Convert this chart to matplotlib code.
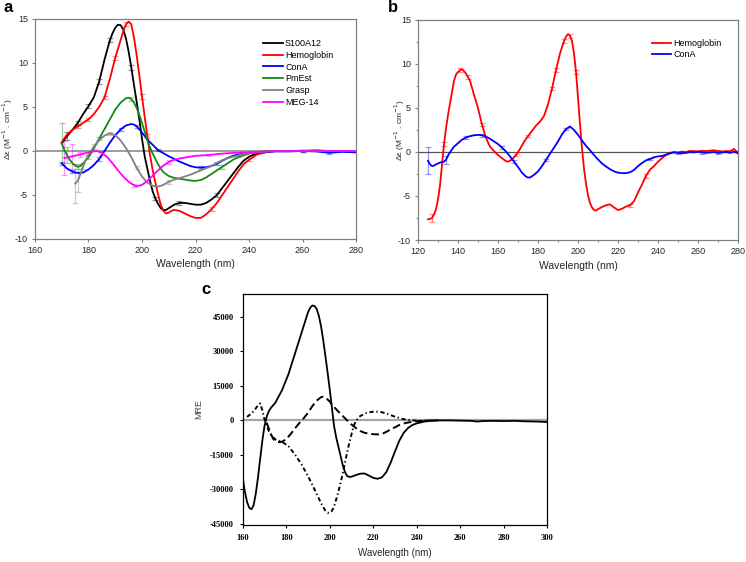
"""CD spectra figure: (a) six proteins, (b) Hemoglobin/ConA extended range, (c) MRE reference spectra."""
import matplotlib

matplotlib.use("Agg")
import matplotlib.pyplot as plt
import numpy as np
from matplotlib.ticker import MultipleLocator

plt.rcParams["font.family"] = ["Liberation Sans", "DejaVu Sans"]
plt.rcParams["axes.unicode_minus"] = False

# ---- panel a : delta epsilon vs wavelength ----
wl_s100 = [170, 172, 174, 176, 178, 180, 182, 184, 186, 188, 189, 190, 191, 192, 193, 194, 195, 196, 197, 198,
           199, 200, 201, 202, 203, 204, 205, 206, 207, 208, 209, 210, 212, 214, 216, 218, 220, 222, 224, 226,
           228, 230, 232, 234, 236, 238, 240, 243, 246, 250, 255, 260, 265, 270, 275, 280]
s100 = [0.85, 1.7, 2.4, 3.2, 4.2, 5.1, 6.1, 7.9, 10.4, 12.6, 13.4, 14.0, 14.35, 14.3, 13.8, 12.8, 11.3, 9.5, 7.5, 5.6,
        3.6, 1.4, -0.6, -2.0, -3.4, -4.6, -5.4, -6.0, -6.5, -6.7, -6.7, -6.5, -6.1, -5.9, -5.9, -6.0, -6.1, -6.1, -5.9, -5.5,
        -5.0, -4.2, -3.4, -2.6, -1.8, -1.1, -0.65, -0.25, -0.08, 0.0, 0.0, 0.0, 0.05, 0.0, 0.0, -0.05]
s100_err_wl = [172, 176, 180, 184, 188, 196, 205, 214, 228, 260]
s100_err = [0.5, 0.2, 0.2, 0.25, 0.25, 0.25, 0.2, 0.2, 0.2, 0.15]

wl_hb_a = [170, 172, 174, 176, 178, 180, 182, 184, 186, 188, 190, 192, 193, 194, 195, 196, 197, 198, 199, 200,
           201, 202, 203, 204, 205, 206, 207, 208, 209, 210, 211, 212, 214, 216, 218, 220, 222, 224, 226, 228,
           230, 232, 234, 236, 238, 240, 243, 246, 250, 255, 260, 265, 270, 275, 280]
hb_a = [1.0, 1.9, 2.4, 2.8, 3.2, 3.6, 4.2, 5.0, 6.1, 8.2, 10.6, 12.6, 13.6, 14.4, 14.7, 14.4, 12.9, 10.9, 8.6, 6.2,
        3.9, 1.7, -0.45, -2.2, -3.6, -4.9, -6.1, -6.8, -7.1, -7.0, -6.8, -6.7, -6.8, -7.1, -7.4, -7.6, -7.6, -7.2, -6.6, -5.9,
        -5.0, -4.1, -3.2, -2.3, -1.5, -1.0, -0.4, -0.15, 0.0, 0.0, 0.0, 0.05, 0.0, 0.0, -0.05]
hb_a_err_wl = [176, 180, 186, 190, 194, 200, 202, 226, 240]
hb_a_err = [0.2, 0.2, 0.2, 0.25, 0.25, 0.25, 0.2, 0.2, 0.15]

wl_cona_a = [170, 172, 174, 176, 178, 180, 182, 184, 186, 188, 190, 192, 194, 196, 197, 198, 200, 202, 204, 206,
             208, 210, 212, 214, 216, 218, 220, 222, 224, 226, 228, 230, 232, 234, 236, 238, 240, 245, 250, 255,
             260, 265, 270, 275, 280]
cona_a = [-1.4, -2.0, -2.35, -2.5, -2.45, -2.1, -1.6, -0.9, 0.0, 0.95, 1.8, 2.45, 2.9, 3.07, 3.0, 2.8, 2.1, 1.3, 0.7, 0.1,
          -0.25, -0.6, -0.9, -1.2, -1.45, -1.7, -1.85, -1.9, -1.85, -1.7, -1.45, -1.1, -0.8, -0.55, -0.4, -0.3, -0.2, -0.1, -0.05, -0.05,
          0.0, -0.05, -0.2, -0.1, -0.15]
cona_a_err_wl = [170, 174, 184, 192, 198, 206, 222, 228, 245, 260, 270]
cona_a_err = [0.2, 0.2, 0.2, 0.2, 0.2, 0.15, 0.15, 0.15, 0.1, 0.15, 0.15]

wl_pmest = [170, 171, 172, 173, 174, 175, 176, 177, 178, 180, 182, 184, 186, 188, 190, 192, 194, 195, 196, 197,
            198, 199, 200, 201, 202, 203, 204, 205, 206, 207, 208, 210, 212, 214, 216, 218, 220, 222, 224, 226,
            228, 230, 232, 234, 236, 238, 240, 244, 248, 255, 260, 270, 280]
pmest = [0.9, 0.1, -0.5, -1.0, -1.4, -1.65, -1.8, -1.7, -1.4, -0.7, 0.3, 1.4, 2.5, 3.6, 4.7, 5.5, 6.0, 6.05, 5.9, 5.5,
         4.9, 4.1, 3.2, 2.2, 1.2, 0.4, -0.3, -0.9, -1.5, -2.0, -2.4, -2.85, -3.05, -3.15, -3.25, -3.35, -3.4, -3.3, -3.0, -2.6,
         -2.2, -1.8, -1.4, -1.0, -0.7, -0.5, -0.3, -0.1, 0.0, 0.0, 0.0, 0.0, 0.0]
pmest_err_wl = [170, 172, 176, 180, 184, 196, 230]
pmest_err = [2.3, 0.9, 0.3, 0.2, 0.2, 0.2, 0.2]

wl_grasp = [175, 176, 177, 178, 179, 180, 182, 184, 186, 188, 190, 192, 194, 196, 198, 200, 202, 204, 206, 208,
            210, 212, 214, 216, 218, 220, 222, 224, 226, 228, 230, 232, 234, 236, 238, 240, 244, 248, 255, 260,
            270, 280]
grasp = [-3.7, -3.4, -2.6, -1.7, -1.0, -0.4, 0.5, 1.25, 1.75, 2.0, 1.8, 1.2, 0.35, -0.7, -1.9, -2.9, -3.6, -3.95, -4.05, -3.85,
         -3.5, -3.25, -3.1, -2.9, -2.7, -2.45, -2.2, -1.95, -1.7, -1.35, -1.05, -0.8, -0.65, -0.5, -0.35, -0.25, -0.1, 0.0, 0.0, 0.05,
         0.0, 0.0]
grasp_err_wl = [175, 176, 178, 182, 188, 198, 210, 236]
grasp_err = [2.2, 1.3, 0.3, 0.3, 0.2, 0.2, 0.2, 0.2]

wl_meg = [171, 174, 177, 180, 183, 185, 187, 189, 191, 193, 195, 197, 198, 200, 202, 204, 206, 208, 210, 212,
          214, 217, 220, 225, 230, 235, 240, 245, 250, 260, 270, 280]
meg = [-0.8, -0.6, -0.4, -0.15, 0.0, -0.2, -0.7, -1.4, -2.2, -2.9, -3.5, -3.9, -4.0, -3.85, -3.4, -2.8, -2.2, -1.65, -1.25, -1.0,
       -0.85, -0.7, -0.55, -0.45, -0.3, -0.2, -0.15, -0.08, 0.0, 0.0, 0.0, 0.0]
meg_err_wl = [171, 174, 177, 185, 197, 210, 225]
meg_err = [1.9, 1.45, 0.3, 0.2, 0.2, 0.2, 0.15]

# ---- panel b : extended range ----
wl_hb_b = [125, 126, 127, 128, 129, 130, 131, 132, 133, 134, 135, 136, 137, 138, 139, 140, 141, 142, 143, 144,
           145, 146, 147, 148, 150, 152, 154, 156, 158, 160, 162, 164, 165, 167, 169, 171, 173, 175, 177, 179,
           181, 183, 185, 187, 189, 191, 193, 194, 195, 196, 197, 198, 199, 200, 201, 202, 203, 204, 205, 206,
           207, 208, 209, 210, 212, 214, 216, 218, 220, 222, 224, 226, 228, 230, 232, 234, 236, 238, 240, 242,
           244, 246, 248, 250, 252, 254, 256, 258, 260, 262, 264, 266, 268, 270, 272, 274, 276, 277, 278, 279, 280]
hb_b = [-7.65, -7.6, -7.5, -7.1, -6.5, -5.4, -3.8, -1.5, 0.9, 2.7, 4.2, 5.5, 6.8, 8.1, 8.8, 9.1, 9.3, 9.4, 9.2, 8.9,
        8.5, 8.1, 7.3, 6.5, 5.0, 3.1, 1.6, 0.6, 0.1, -0.35, -0.7, -1.05, -1.1, -0.85, -0.35, 0.35, 1.15, 1.8, 2.4, 3.0,
        3.45, 4.1, 5.4, 7.2, 9.3, 11.2, 12.6, 13.1, 13.4, 13.2, 12.6, 11.2, 9.1, 6.2, 3.2, 0.4, -1.9, -3.6, -4.9, -5.8,
        -6.3, -6.6, -6.65, -6.5, -6.25, -6.05, -5.95, -6.3, -6.6, -6.45, -6.2, -6.05, -5.6, -4.6, -3.7, -2.7, -2.0, -1.6, -1.1, -0.7,
        -0.35, -0.1, 0.0, -0.05, 0.05, 0.0, 0.1, 0.1, 0.05, 0.15, 0.1, 0.15, 0.2, 0.1, 0.05, 0.1, 0.1, 0.2, 0.35, 0.1, 0.0]
hb_b_err_wl = [127, 133, 141, 145, 152, 169, 175, 187, 189, 193, 196, 199, 226, 234, 256, 270]
hb_b_err = [0.45, 0.25, 0.2, 0.2, 0.2, 0.15, 0.15, 0.2, 0.2, 0.2, 0.2, 0.2, 0.15, 0.2, 0.15, 0.15]

wl_cona_b = [125, 126, 127, 128, 129, 130, 131, 132, 133, 134, 135, 136, 137, 138, 140, 142, 144, 146, 148, 150,
             152, 154, 156, 158, 160, 162, 164, 166, 168, 170, 172, 174, 175, 176, 178, 180, 182, 184, 186, 188,
             190, 192, 194, 196, 198, 200, 202, 204, 206, 208, 210, 212, 214, 216, 218, 220, 222, 224, 226, 228,
             230, 232, 234, 236, 238, 240, 242, 244, 246, 248, 250, 252, 254, 256, 258, 260, 262, 264, 266, 268,
             270, 272, 274, 276, 278, 280]
cona_b = [-1.0, -1.4, -1.6, -1.55, -1.4, -1.3, -1.2, -1.15, -1.1, -0.9, -0.4, -0.05, 0.3, 0.6, 1.0, 1.4, 1.65, 1.8, 1.9, 1.95,
          1.9, 1.75, 1.5, 1.2, 0.9, 0.5, 0.05, -0.5, -1.1, -1.7, -2.35, -2.8, -2.9, -2.9, -2.6, -2.2, -1.6, -0.9, -0.2, 0.5,
          1.2, 2.0, 2.6, 2.9, 2.5, 1.95, 1.3, 0.7, 0.2, -0.35, -0.85, -1.3, -1.65, -1.95, -2.2, -2.35, -2.4, -2.4, -2.3, -2.05,
          -1.6, -1.25, -0.95, -0.8, -0.6, -0.5, -0.45, -0.3, -0.15, -0.05, -0.1, -0.15, -0.1, 0.0, -0.05, 0.05, -0.05, -0.1, -0.05, 0.0,
          -0.1, -0.05, 0.0, -0.1, 0.05, -0.15]
cona_b_err_wl = [125, 134, 144, 152, 162, 168, 184, 194, 236, 250, 262, 270]
cona_b_err = [1.55, 0.45, 0.15, 0.2, 0.15, 0.15, 0.15, 0.15, 0.15, 0.1, 0.2, 0.1]

# ---- panel c : MRE reference spectra ----
wl_helix = [160, 161, 162, 163, 164, 165, 166, 167, 168, 169, 170, 171, 172, 173, 175, 178, 181, 184, 187, 189,
            190, 191, 192, 193, 194, 195, 196, 197, 198, 199, 200, 201, 202, 203, 204, 205, 206, 207, 208, 209,
            210, 212, 214, 216, 218, 220, 222, 224, 226, 228, 230, 232, 234, 236, 238, 240, 243, 246, 250, 255,
            260, 265, 268, 270, 275, 280, 285, 290, 295, 300]
helix = [-25000, -31000, -35500, -38000, -38700, -37000, -32000, -25000, -17000, -9000, -2500, 1500, 4000, 5500, 7700,
         13000, 20000, 29000, 38000, 44000, 47000, 49000, 50000, 49800, 48500, 45500, 41000, 35000, 28000, 21000,
         13500, 5500, -2500, -7500, -11500, -15500, -19500, -22500, -24200, -24600, -24500, -23800, -23200, -23100,
         -24000, -25000, -25400, -24800, -22500, -18400, -13500, -8800, -5400, -3300, -2000, -1300, -600, -200, 0, 0,
         -100, -200, -500, -300, -200, -300, -200, -400, -500, -700]

wl_sheet = [171, 172, 173, 174, 175, 176, 177, 178, 180, 182, 184, 186, 188, 190, 192, 194, 196, 197, 198, 200,
            202, 204, 206, 208, 210, 212, 214, 216, 218, 220, 222, 224, 226, 228, 230, 232, 235, 238, 241, 245, 250]
sheet = [-1000, -3500, -6000, -8000, -9000, -9400, -9500, -9300, -8200, -6000, -3500, -1200, 900, 3300, 6200, 8600,
         10100, 10300, 10000, 8200, 5800, 3800, 1900, 0, -1800, -3300, -4600, -5400, -5800, -6000, -6100, -5900, -5000,
         -3900, -3000, -2000, -1100, -600, -300, -100, 0]

wl_coil = [162, 163, 164, 165, 166, 167, 168, 169, 170, 171, 172, 173, 175, 178, 181, 184, 187, 190, 193, 196,
           198, 199, 200, 201, 202, 203, 204, 205, 206, 207, 208, 209, 210, 211, 212, 214, 217, 220, 223, 226,
           230, 234, 238, 242, 246, 250]
coil = [1500, 2300, 3000, 4000, 5200, 6500, 7400, 4500, 500, -2200, -4600, -6300, -8300, -9300, -11200, -14800,
        -19100, -24200, -30000, -36000, -39300, -40200, -40200, -39400, -37500, -34300, -31000, -27100, -23000,
        -18400, -14000, -9700, -6000, -2500, -300, 1900, 3300, 3800, 3800, 3000, 1600, 500, 0, -200, -100, 0]

W, H = 746, 562
FRAME = "#808080"
TXT = "#262626"


def _err(ax, wl, vals, err_wl, err, color):
    wl = np.asarray(wl)
    vals = np.asarray(vals)
    idx = np.searchsorted(wl, err_wl)
    ax.errorbar(np.asarray(err_wl), vals[idx], yerr=err, fmt="none", ecolor=color, alpha=0.4,
                elinewidth=0.9, capsize=2, capthick=0.9, zorder=2)


def _style_ab(ax):
    for s in ax.spines.values():
        s.set_color(FRAME)
        s.set_linewidth(0.9)
    ax.tick_params(direction="out", length=2.5, width=0.8, color=FRAME, labelsize=6.5,
                   labelcolor=TXT, pad=2.5)
    ax.tick_params(which="minor", direction="out", length=1.6, width=0.6, color=FRAME)
    ax.set_ylim(-10, 15)
    ax.yaxis.set_major_locator(MultipleLocator(5))
    ax.set_xlabel("Wavelength (nm)", fontsize=7.5, color=TXT, labelpad=2)
    ax.set_ylabel("Δε (M$^{-1}$ . cm$^{-1}$)", fontsize=6, color=TXT, labelpad=2)


def plot_panel_a(fig):
    ax = fig.add_axes([35 / W, 1 - 239 / H, 321 / W, 220 / H])
    ax.axhline(0, color="#8c8c8c", lw=1.2, zorder=1)
    series = [
        (wl_s100, s100, s100_err_wl, s100_err, "black", "S100A12"),
        (wl_hb_a, hb_a, hb_a_err_wl, hb_a_err, "#ff0000", "Hemoglobin"),
        (wl_cona_a, cona_a, cona_a_err_wl, cona_a_err, "#0000ff", "ConA"),
        (wl_pmest, pmest, pmest_err_wl, pmest_err, "#138a13", "PmEst"),
        (wl_grasp, grasp, grasp_err_wl, grasp_err, "#808080", "Grasp"),
        (wl_meg, meg, meg_err_wl, meg_err, "#ff00ff", "MEG-14"),
    ]
    for wl, v, ew, e, c, name in series:
        _err(ax, wl, v, ew, e, c)
        ax.plot(wl, v, color=c, lw=1.3, label=name, zorder=3)
    ax.set_xlim(160, 280)
    ax.xaxis.set_major_locator(MultipleLocator(20))
    _style_ab(ax)
    ax.xaxis.set_label_coords(0.5, -0.09)
    ax.yaxis.set_label_coords(-0.062, 0.5)
    ax.legend(loc="upper left", bbox_to_anchor=(0.71, 0.91), frameon=False, fontsize=6.5,
              handlelength=2.2, handletextpad=0.25, labelspacing=0.32, borderpad=0, borderaxespad=0)
    fig.text(8 / W, 1 - 8 / H, "a", fontsize=12, fontweight="bold", ha="center", va="center")


def plot_panel_b(fig):
    ax = fig.add_axes([418 / W, 1 - 240 / H, 320 / W, 220 / H])
    ax.axhline(0, color="#555555", lw=0.9, zorder=1)
    _err(ax, wl_hb_b, hb_b, hb_b_err_wl, hb_b_err, "#ff0000")
    _err(ax, wl_cona_b, cona_b, cona_b_err_wl, cona_b_err, "#0000ff")
    ax.plot(wl_hb_b, hb_b, color="#ff0000", lw=1.3, label="Hemoglobin", zorder=3)
    ax.plot(wl_cona_b, cona_b, color="#0000ff", lw=1.3, label="ConA", zorder=3)
    ax.set_xlim(120, 280)
    ax.xaxis.set_major_locator(MultipleLocator(20))
    ax.xaxis.set_minor_locator(MultipleLocator(10))
    ax.yaxis.set_minor_locator(MultipleLocator(2.5))
    _style_ab(ax)
    ax.xaxis.set_label_coords(0.5, -0.095)
    ax.yaxis.set_label_coords(-0.035, 0.5)
    ax.legend(loc="upper left", bbox_to_anchor=(0.73, 0.915), frameon=False, fontsize=6.5,
              handlelength=2.2, handletextpad=0.25, labelspacing=0.3, borderpad=0, borderaxespad=0)
    fig.text(393 / W, 1 - 8 / H, "b", fontsize=12, fontweight="bold", ha="center", va="center")


def plot_panel_c(fig):
    ax = fig.add_axes([242.7 / W, 1 - 524.5 / H, 304.6 / W, 230.5 / H])
    ax.axhline(0, color="#a6a6a6", lw=1.6, zorder=1)
    ax.plot(wl_helix, helix, color="black", lw=1.3, zorder=3)
    ax.plot(wl_sheet, sheet, color="black", lw=1.4, linestyle=(0, (4, 2)), zorder=3)
    ax.plot(wl_coil, coil, color="black", lw=1.4, linestyle=(0, (2.2, 1.4, 0.7, 1.4)), zorder=3)
    ax.set_xlim(160, 300)
    ax.set_ylim(-45300, 55000)
    ax.xaxis.set_major_locator(MultipleLocator(20))
    ax.set_yticks(np.arange(-45000, 45001, 15000))
    for s in ax.spines.values():
        s.set_color("black")
        s.set_linewidth(0.9)
    ax.tick_params(direction="out", length=2.5, width=0.8, labelsize=6, pad=4)
    for lab in ax.get_xticklabels() + ax.get_yticklabels():
        lab.set_family("Liberation Serif")
        lab.set_fontweight("bold")
    ax.set_xlabel("Wavelength (nm)", fontsize=7, color=TXT)
    ax.set_ylabel("MRE", fontsize=6.5, color="#3a4150")
    ax.xaxis.set_label_coords(0.5, -0.1)
    ax.yaxis.set_label_coords(-0.13, 0.5)
    fig.text(206 / W, 1 - 290 / H, "c", fontsize=12, fontweight="bold", ha="center", va="center")


fig = plt.figure(figsize=(W / 100, H / 100), dpi=100)
plot_panel_a(fig)
plot_panel_b(fig)
plot_panel_c(fig)
fig.savefig("out.png", dpi=100)
plt.close(fig)
